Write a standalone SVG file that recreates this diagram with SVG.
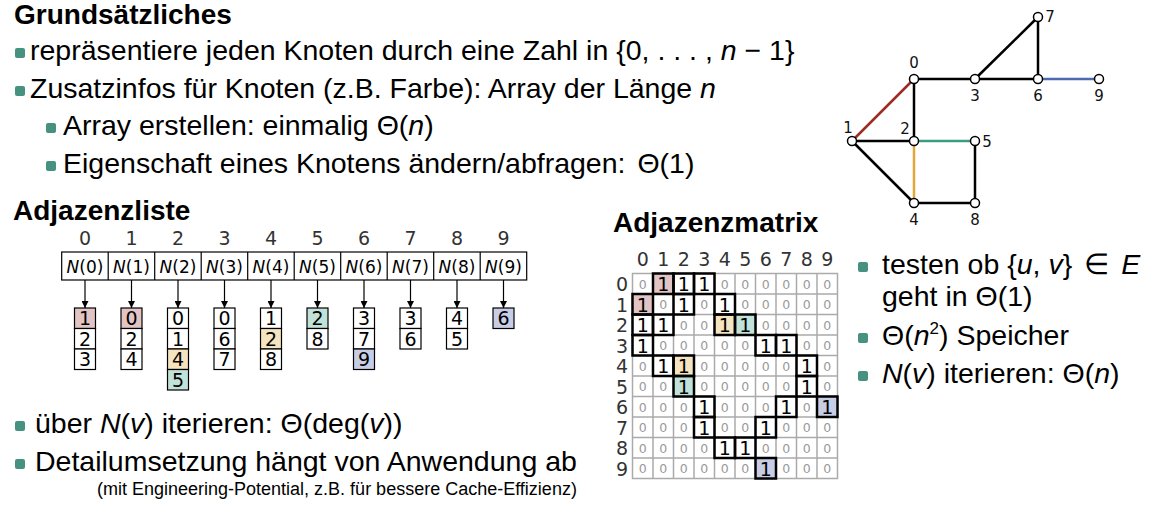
<svg xmlns="http://www.w3.org/2000/svg" width="1164" height="510" viewBox="0 0 1164 510">
<style>
.t{font-family:"Liberation Sans",Arial,sans-serif;font-size:28.5px;fill:#000}
.h{font-family:"Liberation Sans",Arial,sans-serif;font-size:28px;font-weight:bold;fill:#000}
.i{font-style:italic}
.b{fill:#46917f}
.sm{font-family:"Liberation Sans",Arial,sans-serif;font-size:18px;fill:#000}
.gl{font-family:"DejaVu Sans",sans-serif;font-size:15px;fill:#111;text-anchor:middle}
.e{stroke:#000;stroke-width:2.5;fill:none}
.nd{fill:#fff;stroke:#000;stroke-width:1.5}
.idx{font-family:"DejaVu Sans",sans-serif;font-size:19px;fill:#333;text-anchor:middle}
.cell{fill:#fff;stroke:#000;stroke-width:1.2}
.nl{font-family:"DejaVu Sans",sans-serif;font-size:17px;fill:#000;text-anchor:middle}
.ld{font-family:"DejaVu Sans",sans-serif;font-size:19px;fill:#000;text-anchor:middle}
.z{font-family:"DejaVu Sans",sans-serif;font-size:12.5px;fill:#999;text-anchor:middle}
.o{font-family:"DejaVu Sans",sans-serif;font-size:19px;fill:#000;text-anchor:middle}
.grid{fill:#fff;stroke:#aaa;stroke-width:1.5}
.thick{fill:none;stroke:#000;stroke-width:2.5}
.red{fill:#e2c4c4}.org{fill:#f4e4c0}.teal{fill:#c0e2d9}.blue{fill:#c8cde6}
</style>
<defs>
<marker id="ah" viewBox="0 0 10 10" refX="10" refY="5" markerWidth="7" markerHeight="7" markerUnits="userSpaceOnUse" orient="auto">
<path d="M0,0 L10,5 L0,10 z" fill="#000"/>
</marker>
</defs>

<g id="text-top">
<text class="h" x="14" y="24">Grundsätzliches</text>
<rect class="b" x="15" y="48" width="10" height="10" rx="2"/>
<text class="t" x="30" y="60">repräsentiere jeden Knoten durch eine Zahl in {0, . . . , <tspan class="i">n</tspan> − 1}</text>
<rect class="b" x="15" y="86" width="10" height="10" rx="2"/>
<text class="t" x="30" y="98">Zusatzinfos für Knoten (z.B. Farbe): Array der Länge <tspan class="i">n</tspan></text>
<rect class="b" x="46" y="123" width="10" height="10" rx="2"/>
<text class="t" x="63" y="135">Array erstellen: einmalig Θ(<tspan class="i">n</tspan>)</text>
<rect class="b" x="46" y="161" width="10" height="10" rx="2"/>
<text class="t" x="63" y="173">Eigenschaft eines Knotens ändern/abfragen: <tspan dx="4">Θ(1)</tspan></text>
</g>

<g id="graph">
<g id="edges">
<line class="e" x1="914" y1="79" x2="852" y2="141" style="stroke:#9e2b25"/>
<line class="e" x1="914" y1="79" x2="914" y2="141"/>
<line class="e" x1="914" y1="79" x2="975" y2="79"/>
<line class="e" x1="975" y1="79" x2="1038" y2="79"/>
<line class="e" x1="975" y1="79" x2="1038" y2="17"/>
<line class="e" x1="1038" y1="17" x2="1038" y2="79"/>
<line class="e" x1="1038" y1="79" x2="1099" y2="79" style="stroke:#4e69ad"/>
<line class="e" x1="852" y1="141" x2="914" y2="141"/>
<line class="e" x1="852" y1="141" x2="914" y2="203"/>
<line class="e" x1="914" y1="141" x2="975" y2="141" style="stroke:#3c9c82"/>
<line class="e" x1="914" y1="141" x2="914" y2="203" style="stroke:#e1a73a"/>
<line class="e" x1="914" y1="203" x2="975" y2="203"/>
<line class="e" x1="975" y1="141" x2="975" y2="203"/>
</g>
<g id="v0"><circle class="nd" cx="914" cy="79" r="4.5"/><text class="gl" x="914" y="68">0</text></g>
<g id="v1"><circle class="nd" cx="852" cy="141" r="4.5"/><text class="gl" x="848" y="133">1</text></g>
<g id="v2"><circle class="nd" cx="914" cy="141" r="4.5"/><text class="gl" x="905" y="134">2</text></g>
<g id="v3"><circle class="nd" cx="975" cy="79" r="4.5"/><text class="gl" x="975" y="101">3</text></g>
<g id="v4"><circle class="nd" cx="914" cy="203" r="4.5"/><text class="gl" x="914" y="225">4</text></g>
<g id="v5"><circle class="nd" cx="975" cy="141" r="4.5"/><text class="gl" x="987" y="147">5</text></g>
<g id="v6"><circle class="nd" cx="1038" cy="79" r="4.5"/><text class="gl" x="1038" y="101">6</text></g>
<g id="v7"><circle class="nd" cx="1038" cy="17" r="4.5"/><text class="gl" x="1050" y="22">7</text></g>
<g id="v8"><circle class="nd" cx="975" cy="203" r="4.5"/><text class="gl" x="975" y="225">8</text></g>
<g id="v9"><circle class="nd" cx="1099" cy="79" r="4.5"/><text class="gl" x="1099" y="101">9</text></g>
</g>

<g id="adjlist">
<text class="h" x="13" y="220">Adjazenzliste</text>
<g id="array">
<rect class="cell" x="61.7" y="252" width="465" height="28"/>
<g stroke="#000" stroke-width="1.2">
<line x1="108.2" y1="252" x2="108.2" y2="280"/><line x1="154.7" y1="252" x2="154.7" y2="280"/><line x1="201.2" y1="252" x2="201.2" y2="280"/><line x1="247.7" y1="252" x2="247.7" y2="280"/><line x1="294.2" y1="252" x2="294.2" y2="280"/><line x1="340.7" y1="252" x2="340.7" y2="280"/><line x1="387.2" y1="252" x2="387.2" y2="280"/><line x1="433.7" y1="252" x2="433.7" y2="280"/><line x1="480.2" y1="252" x2="480.2" y2="280"/>
</g>
<text class="idx" x="85" y="245">0</text><text class="idx" x="131.5" y="245">1</text><text class="idx" x="178" y="245">2</text><text class="idx" x="224.5" y="245">3</text><text class="idx" x="271" y="245">4</text><text class="idx" x="317.5" y="245">5</text><text class="idx" x="364" y="245">6</text><text class="idx" x="410.5" y="245">7</text><text class="idx" x="457" y="245">8</text><text class="idx" x="503.5" y="245">9</text>
<text class="nl" x="85" y="273"><tspan class="i">N</tspan>(0)</text><text class="nl" x="131.5" y="273"><tspan class="i">N</tspan>(1)</text><text class="nl" x="178" y="273"><tspan class="i">N</tspan>(2)</text><text class="nl" x="224.5" y="273"><tspan class="i">N</tspan>(3)</text><text class="nl" x="271" y="273"><tspan class="i">N</tspan>(4)</text><text class="nl" x="317.5" y="273"><tspan class="i">N</tspan>(5)</text><text class="nl" x="364" y="273"><tspan class="i">N</tspan>(6)</text><text class="nl" x="410.5" y="273"><tspan class="i">N</tspan>(7)</text><text class="nl" x="457" y="273"><tspan class="i">N</tspan>(8)</text><text class="nl" x="503.5" y="273"><tspan class="i">N</tspan>(9)</text>
</g>
<g id="list-arrows" stroke="#000" stroke-width="1.2">
<line x1="85" y1="280" x2="85" y2="308" marker-end="url(#ah)"/><line x1="131.5" y1="280" x2="131.5" y2="308" marker-end="url(#ah)"/><line x1="178" y1="280" x2="178" y2="308" marker-end="url(#ah)"/><line x1="224.5" y1="280" x2="224.5" y2="308" marker-end="url(#ah)"/><line x1="271" y1="280" x2="271" y2="308" marker-end="url(#ah)"/><line x1="317.5" y1="280" x2="317.5" y2="308" marker-end="url(#ah)"/><line x1="364" y1="280" x2="364" y2="308" marker-end="url(#ah)"/><line x1="410.5" y1="280" x2="410.5" y2="308" marker-end="url(#ah)"/><line x1="457" y1="280" x2="457" y2="308" marker-end="url(#ah)"/><line x1="503.5" y1="280" x2="503.5" y2="308" marker-end="url(#ah)"/>
</g>
<g id="lists">
<g id="l0"><rect class="cell red" x="74.5" y="308" width="21" height="20.5"/><rect class="cell" x="74.5" y="328.5" width="21" height="20.5"/><rect class="cell" x="74.5" y="349" width="21" height="20.5"/><text class="ld" x="85" y="325">1</text><text class="ld" x="85" y="345.5">2</text><text class="ld" x="85" y="366">3</text></g>
<g id="l1"><rect class="cell red" x="121" y="308" width="21" height="20.5"/><rect class="cell" x="121" y="328.5" width="21" height="20.5"/><rect class="cell" x="121" y="349" width="21" height="20.5"/><text class="ld" x="131.5" y="325">0</text><text class="ld" x="131.5" y="345.5">2</text><text class="ld" x="131.5" y="366">4</text></g>
<g id="l2"><rect class="cell" x="167.5" y="308" width="21" height="20.5"/><rect class="cell" x="167.5" y="328.5" width="21" height="20.5"/><rect class="cell org" x="167.5" y="349" width="21" height="20.5"/><rect class="cell teal" x="167.5" y="369.5" width="21" height="20.5"/><text class="ld" x="178" y="325">0</text><text class="ld" x="178" y="345.5">1</text><text class="ld" x="178" y="366">4</text><text class="ld" x="178" y="386.5">5</text></g>
<g id="l3"><rect class="cell" x="214" y="308" width="21" height="20.5"/><rect class="cell" x="214" y="328.5" width="21" height="20.5"/><rect class="cell" x="214" y="349" width="21" height="20.5"/><text class="ld" x="224.5" y="325">0</text><text class="ld" x="224.5" y="345.5">6</text><text class="ld" x="224.5" y="366">7</text></g>
<g id="l4"><rect class="cell" x="260.5" y="308" width="21" height="20.5"/><rect class="cell org" x="260.5" y="328.5" width="21" height="20.5"/><rect class="cell" x="260.5" y="349" width="21" height="20.5"/><text class="ld" x="271" y="325">1</text><text class="ld" x="271" y="345.5">2</text><text class="ld" x="271" y="366">8</text></g>
<g id="l5"><rect class="cell teal" x="307" y="308" width="21" height="20.5"/><rect class="cell" x="307" y="328.5" width="21" height="20.5"/><text class="ld" x="317.5" y="325">2</text><text class="ld" x="317.5" y="345.5">8</text></g>
<g id="l6"><rect class="cell" x="353.5" y="308" width="21" height="20.5"/><rect class="cell" x="353.5" y="328.5" width="21" height="20.5"/><rect class="cell blue" x="353.5" y="349" width="21" height="20.5"/><text class="ld" x="364" y="325">3</text><text class="ld" x="364" y="345.5">7</text><text class="ld" x="364" y="366">9</text></g>
<g id="l7"><rect class="cell" x="400" y="308" width="21" height="20.5"/><rect class="cell" x="400" y="328.5" width="21" height="20.5"/><text class="ld" x="410.5" y="325">3</text><text class="ld" x="410.5" y="345.5">6</text></g>
<g id="l8"><rect class="cell" x="446.5" y="308" width="21" height="20.5"/><rect class="cell" x="446.5" y="328.5" width="21" height="20.5"/><text class="ld" x="457" y="325">4</text><text class="ld" x="457" y="345.5">5</text></g>
<g id="l9"><rect class="cell blue" x="493" y="308" width="21" height="20.5"/><text class="ld" x="503.5" y="325">6</text></g>
</g>
</g>

<g id="text-bottom">
<rect class="b" x="15" y="421" width="10" height="10" rx="2"/>
<text class="t" x="35" y="433">über <tspan class="i">N</tspan>(<tspan class="i">v</tspan>) iterieren: Θ(deg(<tspan class="i">v</tspan>))</text>
<rect class="b" x="15" y="459" width="10" height="10" rx="2"/>
<text class="t" x="35" y="471">Detailumsetzung hängt von Anwendung ab</text>
<text class="sm" x="97" y="495">(mit Engineering-Potential, z.B. für bessere Cache-Effizienz)</text>
</g>

<g id="matrix">
<text class="h" x="613" y="232">Adjazenzmatrix</text>
<g id="mgrid">
<rect class="grid" x="632.5" y="273.5" width="205" height="205"/>
<g stroke="#aaa" stroke-width="1.5">
<line x1="653" y1="273.5" x2="653" y2="478.5"/><line x1="673.5" y1="273.5" x2="673.5" y2="478.5"/><line x1="694" y1="273.5" x2="694" y2="478.5"/><line x1="714.5" y1="273.5" x2="714.5" y2="478.5"/><line x1="735" y1="273.5" x2="735" y2="478.5"/><line x1="755.5" y1="273.5" x2="755.5" y2="478.5"/><line x1="776" y1="273.5" x2="776" y2="478.5"/><line x1="796.5" y1="273.5" x2="796.5" y2="478.5"/><line x1="817" y1="273.5" x2="817" y2="478.5"/>
<line x1="632.5" y1="294" x2="837.5" y2="294"/><line x1="632.5" y1="314.5" x2="837.5" y2="314.5"/><line x1="632.5" y1="335" x2="837.5" y2="335"/><line x1="632.5" y1="355.5" x2="837.5" y2="355.5"/><line x1="632.5" y1="376" x2="837.5" y2="376"/><line x1="632.5" y1="396.5" x2="837.5" y2="396.5"/><line x1="632.5" y1="417" x2="837.5" y2="417"/><line x1="632.5" y1="437.5" x2="837.5" y2="437.5"/><line x1="632.5" y1="458" x2="837.5" y2="458"/>
</g>
</g>
<g id="mfill">
<rect class="red" x="653" y="273.5" width="20.5" height="20.5"/>
<rect class="red" x="632.5" y="294" width="20.5" height="20.5"/>
<rect class="org" x="714.5" y="314.5" width="20.5" height="20.5"/>
<rect class="teal" x="735" y="314.5" width="20.5" height="20.5"/>
<rect class="org" x="673.5" y="355.5" width="20.5" height="20.5"/>
<rect class="teal" x="673.5" y="376" width="20.5" height="20.5"/>
<rect class="blue" x="817" y="396.5" width="20.5" height="20.5"/>
<rect class="blue" x="755.5" y="458" width="20.5" height="20.5"/>
</g>
<g id="mlabels">
<text class="idx" x="642.8" y="266">0</text><text class="idx" x="663.3" y="266">1</text><text class="idx" x="683.8" y="266">2</text><text class="idx" x="704.3" y="266">3</text><text class="idx" x="724.8" y="266">4</text><text class="idx" x="745.3" y="266">5</text><text class="idx" x="765.8" y="266">6</text><text class="idx" x="786.3" y="266">7</text><text class="idx" x="806.8" y="266">8</text><text class="idx" x="827.3" y="266">9</text>
<text class="idx" x="622" y="291">0</text><text class="idx" x="622" y="311.5">1</text><text class="idx" x="622" y="332">2</text><text class="idx" x="622" y="352.5">3</text><text class="idx" x="622" y="373">4</text><text class="idx" x="622" y="393.5">5</text><text class="idx" x="622" y="414">6</text><text class="idx" x="622" y="434.5">7</text><text class="idx" x="622" y="455">8</text><text class="idx" x="622" y="475.5">9</text>
</g>
<g id="mvalues">
<text class="z" x="642.8" y="288.5">0</text><text class="o" x="663.3" y="291">1</text><text class="o" x="683.8" y="291">1</text><text class="o" x="704.3" y="291">1</text><text class="z" x="724.8" y="288.5">0</text><text class="z" x="745.3" y="288.5">0</text><text class="z" x="765.8" y="288.5">0</text><text class="z" x="786.3" y="288.5">0</text><text class="z" x="806.8" y="288.5">0</text><text class="z" x="827.3" y="288.5">0</text>
<text class="o" x="642.8" y="311.5">1</text><text class="z" x="663.3" y="309">0</text><text class="o" x="683.8" y="311.5">1</text><text class="z" x="704.3" y="309">0</text><text class="o" x="724.8" y="311.5">1</text><text class="z" x="745.3" y="309">0</text><text class="z" x="765.8" y="309">0</text><text class="z" x="786.3" y="309">0</text><text class="z" x="806.8" y="309">0</text><text class="z" x="827.3" y="309">0</text>
<text class="o" x="642.8" y="332">1</text><text class="o" x="663.3" y="332">1</text><text class="z" x="683.8" y="329.5">0</text><text class="z" x="704.3" y="329.5">0</text><text class="o" x="724.8" y="332">1</text><text class="o" x="745.3" y="332">1</text><text class="z" x="765.8" y="329.5">0</text><text class="z" x="786.3" y="329.5">0</text><text class="z" x="806.8" y="329.5">0</text><text class="z" x="827.3" y="329.5">0</text>
<text class="o" x="642.8" y="352.5">1</text><text class="z" x="663.3" y="350">0</text><text class="z" x="683.8" y="350">0</text><text class="z" x="704.3" y="350">0</text><text class="z" x="724.8" y="350">0</text><text class="z" x="745.3" y="350">0</text><text class="o" x="765.8" y="352.5">1</text><text class="o" x="786.3" y="352.5">1</text><text class="z" x="806.8" y="350">0</text><text class="z" x="827.3" y="350">0</text>
<text class="z" x="642.8" y="370.5">0</text><text class="o" x="663.3" y="373">1</text><text class="o" x="683.8" y="373">1</text><text class="z" x="704.3" y="370.5">0</text><text class="z" x="724.8" y="370.5">0</text><text class="z" x="745.3" y="370.5">0</text><text class="z" x="765.8" y="370.5">0</text><text class="z" x="786.3" y="370.5">0</text><text class="o" x="806.8" y="373">1</text><text class="z" x="827.3" y="370.5">0</text>
<text class="z" x="642.8" y="391">0</text><text class="z" x="663.3" y="391">0</text><text class="o" x="683.8" y="393.5">1</text><text class="z" x="704.3" y="391">0</text><text class="z" x="724.8" y="391">0</text><text class="z" x="745.3" y="391">0</text><text class="z" x="765.8" y="391">0</text><text class="z" x="786.3" y="391">0</text><text class="o" x="806.8" y="393.5">1</text><text class="z" x="827.3" y="391">0</text>
<text class="z" x="642.8" y="411.5">0</text><text class="z" x="663.3" y="411.5">0</text><text class="z" x="683.8" y="411.5">0</text><text class="o" x="704.3" y="414">1</text><text class="z" x="724.8" y="411.5">0</text><text class="z" x="745.3" y="411.5">0</text><text class="z" x="765.8" y="411.5">0</text><text class="o" x="786.3" y="414">1</text><text class="z" x="806.8" y="411.5">0</text><text class="o" x="827.3" y="414">1</text>
<text class="z" x="642.8" y="432">0</text><text class="z" x="663.3" y="432">0</text><text class="z" x="683.8" y="432">0</text><text class="o" x="704.3" y="434.5">1</text><text class="z" x="724.8" y="432">0</text><text class="z" x="745.3" y="432">0</text><text class="o" x="765.8" y="434.5">1</text><text class="z" x="786.3" y="432">0</text><text class="z" x="806.8" y="432">0</text><text class="z" x="827.3" y="432">0</text>
<text class="z" x="642.8" y="452.5">0</text><text class="z" x="663.3" y="452.5">0</text><text class="z" x="683.8" y="452.5">0</text><text class="z" x="704.3" y="452.5">0</text><text class="o" x="724.8" y="455">1</text><text class="o" x="745.3" y="455">1</text><text class="z" x="765.8" y="452.5">0</text><text class="z" x="786.3" y="452.5">0</text><text class="z" x="806.8" y="452.5">0</text><text class="z" x="827.3" y="452.5">0</text>
<text class="z" x="642.8" y="473">0</text><text class="z" x="663.3" y="473">0</text><text class="z" x="683.8" y="473">0</text><text class="z" x="704.3" y="473">0</text><text class="z" x="724.8" y="473">0</text><text class="z" x="745.3" y="473">0</text><text class="o" x="765.8" y="475.5">1</text><text class="z" x="786.3" y="473">0</text><text class="z" x="806.8" y="473">0</text><text class="z" x="827.3" y="473">0</text>
</g>
<g id="mones">
<rect class="thick" x="653" y="273.5" width="20.5" height="20.5"/><rect class="thick" x="673.5" y="273.5" width="20.5" height="20.5"/><rect class="thick" x="694" y="273.5" width="20.5" height="20.5"/>
<rect class="thick" x="632.5" y="294" width="20.5" height="20.5"/><rect class="thick" x="673.5" y="294" width="20.5" height="20.5"/><rect class="thick" x="714.5" y="294" width="20.5" height="20.5"/>
<rect class="thick" x="632.5" y="314.5" width="20.5" height="20.5"/><rect class="thick" x="653" y="314.5" width="20.5" height="20.5"/><rect class="thick" x="714.5" y="314.5" width="20.5" height="20.5"/><rect class="thick" x="735" y="314.5" width="20.5" height="20.5"/>
<rect class="thick" x="632.5" y="335" width="20.5" height="20.5"/><rect class="thick" x="755.5" y="335" width="20.5" height="20.5"/><rect class="thick" x="776" y="335" width="20.5" height="20.5"/>
<rect class="thick" x="653" y="355.5" width="20.5" height="20.5"/><rect class="thick" x="673.5" y="355.5" width="20.5" height="20.5"/><rect class="thick" x="796.5" y="355.5" width="20.5" height="20.5"/>
<rect class="thick" x="673.5" y="376" width="20.5" height="20.5"/><rect class="thick" x="796.5" y="376" width="20.5" height="20.5"/>
<rect class="thick" x="694" y="396.5" width="20.5" height="20.5"/><rect class="thick" x="776" y="396.5" width="20.5" height="20.5"/><rect class="thick" x="817" y="396.5" width="20.5" height="20.5"/>
<rect class="thick" x="694" y="417" width="20.5" height="20.5"/><rect class="thick" x="755.5" y="417" width="20.5" height="20.5"/>
<rect class="thick" x="714.5" y="437.5" width="20.5" height="20.5"/><rect class="thick" x="735" y="437.5" width="20.5" height="20.5"/>
<rect class="thick" x="755.5" y="458" width="20.5" height="20.5"/>
</g>
</g>

<g id="text-right">
<rect class="b" x="858" y="262" width="10" height="10" rx="2"/>
<text class="t" x="882" y="274">testen ob {<tspan class="i">u</tspan>, <tspan class="i">v</tspan>}<tspan dx="12">∈</tspan><tspan dx="12" class="i">E</tspan></text>
<text class="t" x="882" y="306">geht in Θ(1)</text>
<rect class="b" x="858" y="333" width="10" height="10" rx="2"/>
<text class="t" x="882" y="345">Θ(<tspan class="i">n</tspan><tspan font-size="17" dy="-11">2</tspan><tspan dy="11">)</tspan> Speicher</text>
<rect class="b" x="858" y="371" width="10" height="10" rx="2"/>
<text class="t" x="882" y="383"><tspan class="i">N</tspan>(<tspan class="i">v</tspan>) iterieren: Θ(<tspan class="i">n</tspan>)</text>
</g>
</svg>
